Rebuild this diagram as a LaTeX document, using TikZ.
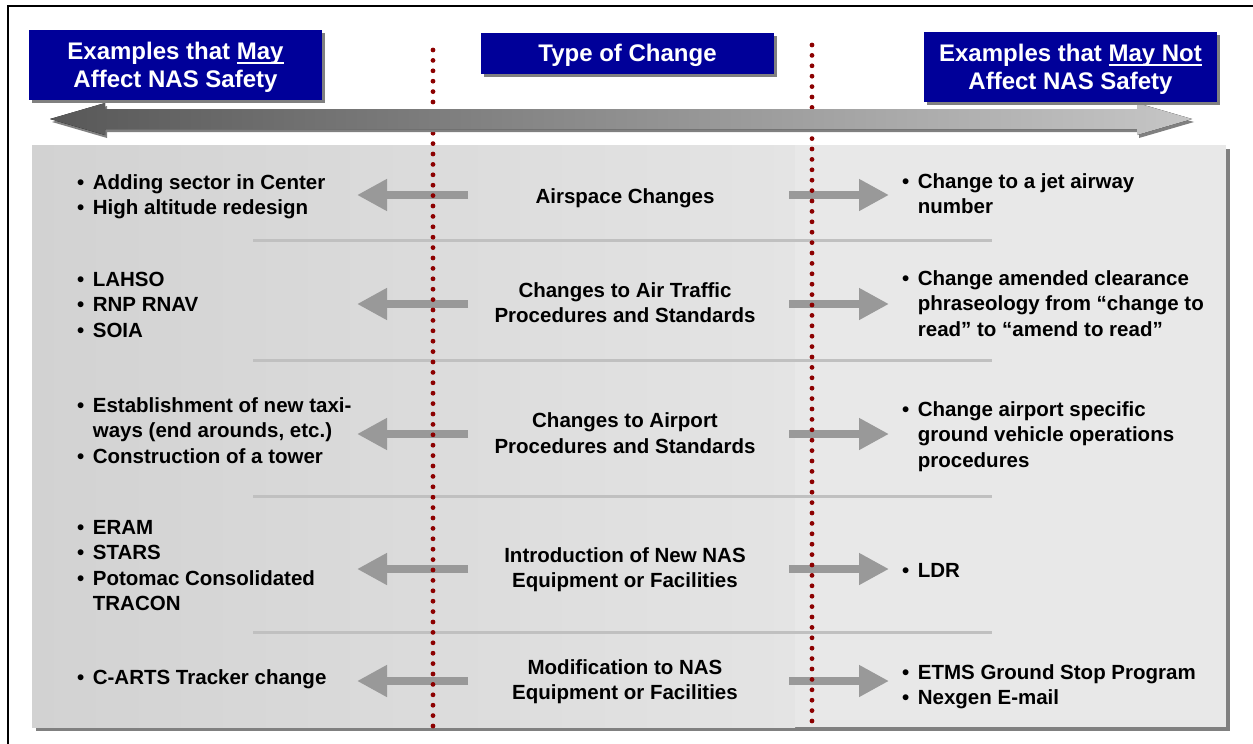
\documentclass[tikz,border=0pt]{standalone}
\usepackage{fontspec}
\setmainfont{Liberation Sans}
\usetikzlibrary{arrows.meta,shadows}
\definecolor{hdrblue}{RGB}{0,0,153}
\definecolor{shadowgray}{RGB}{128,128,128}
\definecolor{dotred}{RGB}{140,0,0}
\definecolor{sepgray}{RGB}{192,192,192}
\definecolor{arrgray}{RGB}{153,153,153}
\definecolor{panelL}{RGB}{210,210,210}
\definecolor{panelM}{RGB}{228,228,228}
\definecolor{panelR}{RGB}{232,232,232}
\definecolor{bigL}{RGB}{88,88,88}
\definecolor{bigR}{RGB}{198,198,198}
\newcommand\fs{\rule{0pt}{15pt}}
\newcommand\hs{\rule{0pt}{22pt}}
\newcommand\bl{\textbullet\hspace{8.5pt}}
\newcommand\ind{\phantom{\bl}}
\newlength\ulw
\newcommand\ul[1]{\settowidth\ulw{#1}\rlap{\rule[-4pt]{\ulw}{2pt}}#1}
\begin{document}
\begin{tikzpicture}[x=1pt,y=-1pt,
  txt/.style={inner sep=0pt, font=\bfseries\fontsize{20.5}{25.5}\selectfont},
  lefttxt/.style={txt, align=left, anchor=north west},
  midtxt/.style={txt, align=center, anchor=north},
  hdr/.style={fill=hdrblue, text=white, inner sep=0pt, align=center, minimum width=293pt,
    font=\bfseries\fontsize{24}{28}\selectfont,
    drop shadow={shadow xshift=3pt, shadow yshift=-3pt, fill=shadowgray, opacity=1}},
  sarrow/.style={draw=arrgray, line width=8pt, -{Triangle[length=30pt,width=30pt]}},
  dotline/.style={draw=dotred, line width=4.8pt, line cap=round, dash pattern=on 0pt off 10.4pt},
  sepline/.style={draw=sepgray, line width=3pt},
]
\useasboundingbox (0,0) rectangle (1253,744);
% outer frame
\draw[line width=2.5pt] (8,746) -- (8,6) -- (1255,6);
% panel
\fill[shadowgray] (36,149) rectangle (1230,731);
\fill[left color=panelL, right color=panelM] (32,145) rectangle (795,727);
\fill[panelR] (795,145) rectangle (1226,727);
% separators
\foreach \i/\y in {1/240,2/360,3/496,4/632}{
  \coordinate (sl\i) at (253,\y);
  \coordinate (sr\i) at (992,\y);
  \draw[sepline] (sl\i) -- (sr\i);
}
% small arrows
\foreach \i/\y in {1/195,2/304,3/434,4/569,5/681}{
  \coordinate (las\i) at (468,\y);
  \coordinate (lae\i) at (357,\y);
  \coordinate (ras\i) at (789,\y);
  \coordinate (rae\i) at (889,\y);
  \draw[sarrow] (las\i) -- (lae\i);
  \draw[sarrow] (ras\i) -- (rae\i);
}
% middle texts
\node[midtxt] (M1) at (625,188) {\fs Airspace Changes};
\node[midtxt] (M2) at (625,282) {\fs Changes to Air Traffic\\Procedures and Standards};
\node[midtxt] (M3) at (625,412.5) {\fs Changes to Airport\\Procedures and Standards};
\node[midtxt] (M4) at (625,547) {\fs Introduction of New NAS\\Equipment or Facilities};
\node[midtxt] (M5) at (625,659) {\fs Modification to NAS\\Equipment or Facilities};
% left texts
\node[lefttxt] (L1) at (77,174) {\fs\bl Adding sector in Center\\\bl High altitude redesign};
\node[lefttxt] (L2) at (77,271) {\fs\bl LAHSO\\\bl RNP RNAV\\\bl SOIA};
\node[lefttxt] (L3) at (77,397) {\fs\bl Establishment of new taxi-\\\ind ways (end arounds, etc.)\\\bl Construction of a tower};
\node[lefttxt] (L4) at (77,519) {\fs\bl ERAM\\\bl STARS\\\bl Potomac Consolidated\\\ind TRACON};
\node[lefttxt] (L5) at (77,669) {\fs\bl C-ARTS Tracker change};
% right texts
\node[lefttxt] (R1) at (902,173) {\fs\bl Change to a jet airway\\\ind number};
\node[lefttxt] (R2) at (902,270) {\fs\bl Change amended clearance\\\ind phraseology from “change to\\\ind read” to “amend to read”};
\node[lefttxt] (R3) at (902,401) {\fs\bl Change airport specific\\\ind ground vehicle operations\\\ind procedures};
\node[lefttxt] (R4) at (902,562) {\fs\bl LDR};
\node[lefttxt] (R5) at (902,664) {\fs\bl ETMS Ground Stop Program\\\bl Nexgen E-mail};
% dotted lines
\coordinate (d1t) at (433,50);
\coordinate (d1b) at (433,728);
\coordinate (d2t) at (812,45);
\coordinate (d2b) at (812,722);
\draw[dotline] (d1t) -- (d1b);
\draw[dotline] (d2t) -- (d2b);
% big double arrow
\fill[shadowgray] (52,122) -- (107,106) -- (107,112) -- (1139,112) -- (1139,106) -- (1194,122) -- (1139,138) -- (1139,132) -- (107,132) -- (107,138) -- cycle;
\fill[left color=bigL, right color=bigR] (50,119) -- (105,103) -- (105,109) -- (1137,109) -- (1137,103) -- (1192,119) -- (1137,135) -- (1137,129) -- (105,129) -- (105,135) -- cycle;
% headers
\node[hdr, minimum height=70pt] (hL) at (175.5,65) {\hs Examples that \ul{May}\\Affect NAS Safety};
\node[hdr, minimum height=41pt] (hM) at (627.5,53.5) {\hs Type of Change};
\node[hdr, minimum height=70pt] (hR) at (1070.5,67) {\hs Examples that \ul{May Not}\\Affect NAS Safety};
\end{tikzpicture}
\end{document}
